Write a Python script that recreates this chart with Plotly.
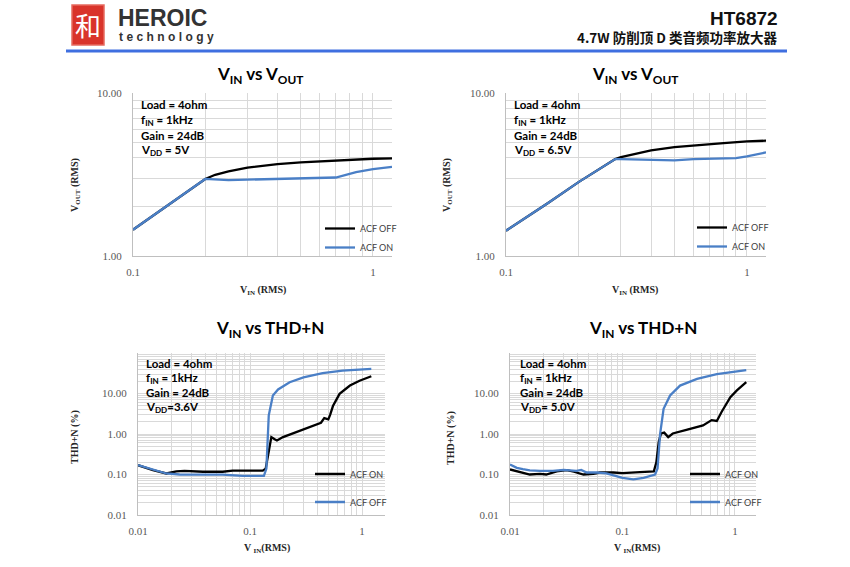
import plotly.graph_objects as go

# ---------------- data ----------------
# Top-left: VIN vs VOUT, VDD = 5V
tl_off_vin = [0.1, 0.12, 0.15, 0.2, 0.22, 0.25, 0.3, 0.4, 0.5, 0.7, 1.0, 1.2]
tl_off_vout = [1.45, 1.75, 2.2, 2.97, 3.15, 3.3, 3.48, 3.66, 3.75, 3.86, 3.95, 3.97]
tl_on_vin = [0.1, 0.12, 0.15, 0.2, 0.25, 0.3, 0.4, 0.5, 0.6, 0.7, 0.85, 1.0, 1.2]
tl_on_vout = [1.45, 1.75, 2.2, 2.97, 2.92, 2.94, 2.98, 3.0, 3.01, 3.03, 3.27, 3.41, 3.52]

# Top-right: VIN vs VOUT, VDD = 6.5V
tr_off_vin = [0.1, 0.15, 0.2, 0.284, 0.3, 0.35, 0.4, 0.5, 0.6, 0.7, 0.8, 1.0, 1.2]
tr_off_vout = [1.43, 2.12, 2.84, 3.93, 4.04, 4.25, 4.44, 4.66, 4.78, 4.86, 4.93, 5.05, 5.1]
tr_on_vin = [0.1, 0.15, 0.2, 0.284, 0.3, 0.4, 0.5, 0.6, 0.7, 0.8, 0.9, 1.0, 1.2]
tr_on_vout = [1.43, 2.12, 2.84, 3.93, 3.93, 3.9, 3.86, 3.93, 3.95, 3.97, 3.98, 4.08, 4.32]

# Bottom-left: VIN vs THD+N, VDD = 3.6V
bl_on_vin = [0.01, 0.0136, 0.0179, 0.0205, 0.022, 0.026, 0.038, 0.057, 0.07, 0.1, 0.13, 0.138,
             0.145, 0.15, 0.155, 0.166, 0.174, 0.197, 0.26, 0.34, 0.43, 0.46, 0.5, 0.52, 0.55,
             0.63, 0.78, 0.95, 1.21]
bl_on_thd = [0.17, 0.128, 0.106, 0.112, 0.12, 0.123, 0.117, 0.117, 0.125, 0.125, 0.125, 0.14,
             0.3, 0.64, 0.84, 0.74, 0.69, 0.84, 1.12, 1.48, 1.9, 2.46, 2.3, 3.0, 4.9,
             9.8, 15.7, 20.6, 26.7]
bl_off_vin = [0.01, 0.0136, 0.0179, 0.0235, 0.038, 0.057, 0.086, 0.133, 0.14, 0.147, 0.16,
              0.178, 0.226, 0.3, 0.445, 0.67, 1.21]
bl_off_thd = [0.17, 0.135, 0.106, 0.1, 0.1, 0.099, 0.093, 0.093, 0.14, 2.9, 8.9,
              12.6, 19, 25, 32, 36.8, 40.5]

# Bottom-right: VIN vs THD+N, VDD = 5.0V
br_on_vin = [0.01, 0.0123, 0.015, 0.0185, 0.021, 0.026, 0.032, 0.037, 0.045, 0.055, 0.063, 0.083,
             0.1, 0.143, 0.19, 0.2, 0.21, 0.22, 0.235, 0.255, 0.28, 0.37, 0.52, 0.62, 0.69, 0.76,
             0.91, 1.04, 1.26]
br_on_thd = [0.133, 0.117, 0.1, 0.104, 0.1, 0.12, 0.128, 0.117, 0.1, 0.104, 0.112, 0.112,
             0.108, 0.114, 0.12, 0.2, 0.64, 1.03, 1.08, 0.84, 1.03, 1.27, 1.63, 2.2, 2.1, 3.5,
             8.1, 11.9, 19]
br_off_vin = [0.01, 0.0115, 0.013, 0.015, 0.0185, 0.024, 0.03, 0.039, 0.043, 0.048, 0.059, 0.072,
              0.1, 0.125, 0.154, 0.195, 0.205, 0.216, 0.232, 0.265, 0.325, 0.46, 0.69, 1.26]
br_off_thd = [0.176, 0.146, 0.135, 0.126, 0.123, 0.123, 0.13, 0.123, 0.13, 0.112, 0.112, 0.106,
              0.083, 0.076, 0.083, 0.1, 0.14, 1.0, 4.2, 8.9, 15.7, 23, 30, 38]

# text
titles = ["V<sub>IN</sub> vs V<sub>OUT</sub>", "V<sub>IN</sub> vs V<sub>OUT</sub>",
          "V<sub>IN</sub> vs THD+N", "V<sub>IN</sub> vs THD+N"]
cond_common = ["Load = 4ohm", "f<sub>IN</sub> = 1kHz", "Gain = 24dB"]
vdd_labels = ["V<sub>DD</sub> = 5V", "V<sub>DD</sub> = 6.5V", "V<sub>DD</sub>=3.6V", "V<sub>DD</sub>= 5.0V"]
x_titles = ["V<sub>IN</sub> (RMS)", "V<sub>IN</sub> (RMS)", "V <sub>IN</sub>(RMS)", "V <sub>IN</sub>(RMS)"]
y_titles = ["V<sub>OUT</sub> (RMS)", "V<sub>OUT</sub> (RMS)", "THD+N (%)", "THD+N (%)"]

# labelled (major) ticks
top_x_ticks = [0.1, 1]
top_x_text = ["0.1", "1"]
top_y_ticks = [1, 10]
top_y_text = ["1.00", "10.00"]
bot_x_ticks = [0.01, 0.1, 1]
bot_x_text = ["0.01", "0.1", "1"]
bot_y_ticks = [0.01, 0.1, 1, 10]
bot_y_text = ["0.01", "0.10", "1.00", "10.00"]

# unlabelled log gridlines (2..9 in each decade)
digits = [2, 3, 4, 5, 6, 7, 8, 9]
top_x_minor = [round(d * 0.1, 3) for d in digits]
top_y_minor = list(digits)
bot_x_minor = [round(d * 10 ** e, 4) for e in (-2, -1, 0) for d in digits]
bot_y_minor = [round(d * 10 ** e, 4) for e in (-2, -1, 0, 1) for d in digits] + [100]

BLACK = "#000000"
BLUE = "#4a7fc6"
W, H = 850, 567


def px(x):
    return x / W


def py(y):
    return 1 - y / H


fig = go.Figure()


def add(x, y, name, color, xa, ya, leg, group):
    fig.add_trace(go.Scatter(x=x, y=y, name=name, mode="lines",
                             line=dict(color=color, width=2.3),
                             xaxis=xa, yaxis=ya, legend=leg, legendgroup=group,
                             showlegend=True))


add(tl_off_vin, tl_off_vout, "ACF OFF", BLACK, "x", "y", "legend", "a")
add(tl_on_vin, tl_on_vout, "ACF ON", BLUE, "x", "y", "legend", "b")
add(tr_off_vin, tr_off_vout, "ACF OFF", BLACK, "x2", "y2", "legend2", "a")
add(tr_on_vin, tr_on_vout, "ACF ON", BLUE, "x2", "y2", "legend2", "b")
add(bl_on_vin, bl_on_thd, "ACF ON", BLACK, "x3", "y3", "legend3", "a")
add(bl_off_vin, bl_off_thd, "ACF OFF", BLUE, "x3", "y3", "legend3", "b")
add(br_on_vin, br_on_thd, "ACF ON", BLACK, "x4", "y4", "legend4", "a")
add(br_off_vin, br_off_thd, "ACF OFF", BLUE, "x4", "y4", "legend4", "b")

GRID = "#d9d9d9"
AXIS = "#bfbfbf"
TICKFONT = dict(family="Liberation Serif", size=11, color="#595959")


def axis(dom, rng, tv, tt, mv, anchor, standoff):
    return dict(type="log", domain=dom, range=rng, tickmode="array", tickvals=tv, ticktext=tt,
                showgrid=True, gridcolor=GRID, gridwidth=1, showline=True, linecolor=AXIS,
                linewidth=1, ticks="", zeroline=False, tickfont=TICKFONT, anchor=anchor,
                minor=dict(tickmode="array", tickvals=mv, showgrid=True, gridcolor=GRID,
                           gridwidth=1, ticks=""),
                ticklabelstandoff=standoff, fixedrange=True, automargin=False)


# plot areas in pixels
areas = [(133, 392, 93, 256), (506, 766, 93, 256), (138, 385, 353, 515), (510, 756, 353, 515)]
xr = [[-1, 0.0792], [-1, 0.079], [-2, 0.205], [-2, 0.187]]
yr = [[0, 1], [0, 1], [-2, 2], [-2, 2]]

layout = dict(width=W, height=H, margin=dict(l=0, r=0, t=0, b=0, pad=0, autoexpand=False),
              paper_bgcolor="white", plot_bgcolor="white", showlegend=True)
for i, (x0, x1, y0, y1) in enumerate(areas):
    sfx = "" if i == 0 else str(i + 1)
    top = i < 2
    layout["xaxis" + sfx] = axis([px(x0), px(x1)], xr[i],
                                 top_x_ticks if top else bot_x_ticks,
                                 top_x_text if top else bot_x_text,
                                 top_x_minor if top else bot_x_minor, "y" + sfx, 6)
    layout["yaxis" + sfx] = axis([py(y1), py(y0)], yr[i],
                                 top_y_ticks if top else bot_y_ticks,
                                 top_y_text if top else bot_y_text,
                                 top_y_minor if top else bot_y_minor, "x" + sfx, 8)

# legends
leg_pos = [(358, 238, 0), (730, 237, 0), (348, 488, 9), (723, 488, 9)]
for i, (tx, cy, gap) in enumerate(leg_pos):
    key = "legend" if i == 0 else "legend" + str(i + 1)
    layout[key] = dict(x=px(tx - 38), xanchor="left", y=py(cy), yanchor="middle",
                       bgcolor="rgba(0,0,0,0)", borderwidth=0,
                       font=dict(family="Lato", size=9, color="#404040"),
                       traceorder="grouped", tracegroupgap=gap, itemclick=False)

fig.update_layout(**layout)

ann = []
# chart titles
title_pos = [(260, 75), (635, 75), (270, 329), (643, 329)]
for t, (x, y) in zip(titles, title_pos):
    ann.append(dict(text="<b>" + t + "</b>", x=px(x), y=py(y), xref="paper", yref="paper",
                    showarrow=False, xanchor="center", yanchor="middle",
                    font=dict(family="Lato", size=17, color="#000000")))

# condition texts
cond_pos = [(139, [105, 120, 135, 150]), (512, [105, 120, 135, 150]),
            (144, [363, 378, 392, 407]), (518, [363, 378, 392, 407])]
for i, (x, ys) in enumerate(cond_pos):
    lines = cond_common + [vdd_labels[i]]
    for txt, y in zip(lines, ys):
        ann.append(dict(text="<b>" + txt + "</b>", x=px(x), y=py(y), xref="paper", yref="paper",
                        showarrow=False, xanchor="left", yanchor="middle",
                        font=dict(family="Lato", size=11.5, color="#000000")))

# axis titles
xt_pos = [(263, 290), (635, 290), (267, 548), (637, 548)]
yt_pos = [(76, 185), (448, 185), (75, 437), (451, 438)]
for i in range(4):
    ann.append(dict(text="<b>" + x_titles[i] + "</b>", x=px(xt_pos[i][0]), y=py(xt_pos[i][1]),
                    xref="paper", yref="paper", showarrow=False, xanchor="center", yanchor="middle",
                    font=dict(family="Liberation Serif", size=10, color="#262626")))
    ann.append(dict(text="<b>" + y_titles[i] + "</b>", x=px(yt_pos[i][0]), y=py(yt_pos[i][1]),
                    xref="paper", yref="paper", showarrow=False, xanchor="center", yanchor="middle",
                    textangle=-90,
                    font=dict(family="Liberation Serif", size=10, color="#262626")))

# header
ann.append(dict(text="和", x=px(88), y=py(25), xref="paper", yref="paper", showarrow=False,
                xanchor="center", yanchor="middle",
                font=dict(family="Noto Sans CJK SC", size=26, color="white")))
ann.append(dict(text="<b>HEROIC</b>", x=px(116), y=py(18), xref="paper", yref="paper",
                showarrow=False, xanchor="left", yanchor="middle",
                font=dict(family="Liberation Sans", size=23, color="#333333")))
ann.append(dict(text="<b><span style='letter-spacing:3.4px'>technology</span></b>",
                x=px(117), y=py(37), xref="paper", yref="paper",
                showarrow=False, xanchor="left", yanchor="middle",
                font=dict(family="Liberation Sans", size=12, color="#333333")))
ann.append(dict(text="<b>HT6872</b>", x=px(780), y=py(18), xref="paper", yref="paper",
                showarrow=False, xanchor="right", yanchor="middle",
                font=dict(family="Liberation Sans", size=19, color="#111111")))
ann.append(dict(text="<b>4.7W 防削顶 D 类音频功率放大器</b>", x=px(780), y=py(37),
                xref="paper", yref="paper", showarrow=False, xanchor="right", yanchor="middle",
                font=dict(family="Noto Sans CJK SC", size=13.5, color="#111111")))

shapes = [
    dict(type="rect", xref="paper", yref="paper", x0=px(72), x1=px(104), y0=py(45), y1=py(5),
         fillcolor="#d9342b", line=dict(color="#e66a5f", width=1.5), layer="below"),
    dict(type="line", xref="paper", yref="paper", x0=px(66), x1=px(787), y0=py(51), y1=py(51),
         line=dict(color="#3f6fe0", width=3)),
]

fig.update_layout(annotations=ann, shapes=shapes)
fig.write_html("out.html")
